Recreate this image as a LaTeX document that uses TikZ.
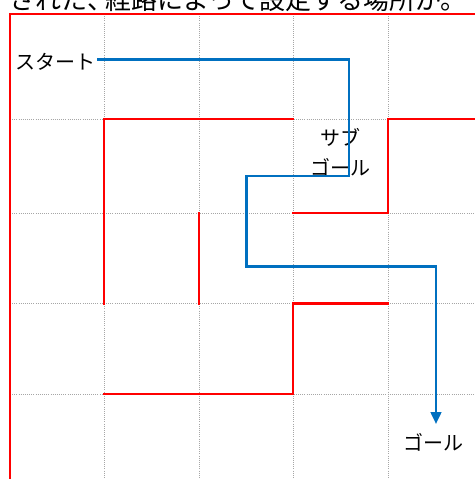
\documentclass[tikz,border=0pt]{standalone}
\usepackage{fontspec}
\newfontfamily\jp{Noto Sans CJK JP}
\usetikzlibrary{arrows.meta}
\definecolor{wallred}{RGB}{255,0,0}
\definecolor{pathblue}{RGB}{0,112,192}
\tikzset{
  gridline/.style={draw=gray!70, densely dotted, line width=0.6pt},
  wall/.style={draw=wallred, line width=2.2pt, line cap=rect},
  route/.style={draw=pathblue, line width=1.9pt},
  lbl/.style={font=\jp\fontsize{15pt}{22.5pt}\selectfont, inner sep=0pt, text=black},
}
\begin{document}
\begin{tikzpicture}[x=0.75pt,y=-0.75pt]
\useasboundingbox (0,0) rectangle (475,479);
\node[anchor=base west, inner sep=0pt, font=\jp\fontsize{19.5pt}{24pt}\selectfont] (cap) at (9,9) {された、\kern-0.3em 経路によって設定する場所が。};
% grid
\foreach \x in {104,199,293,388} \draw[gridline] (\x,14) -- (\x,479);
\foreach \y in {119,213,303.5,394} \draw[gridline] (10,\y) -- (475,\y);
% walls
\draw[wall] (475,14) -- (10,14) -- (10,482);
\draw[wall] (104,303.5) -- (104,119) -- (293,119);
\draw[wall] (478,119) -- (388,119) -- (388,213) -- (293,213);
\draw[wall] (199,213) -- (199,303.5);
\draw[wall] (388,303.5) -- (293,303.5) -- (293,394) -- (104,394);
% labels
\node[lbl, anchor=east] (start) at (96,62) {スタート};
\node[lbl, align=center] (sub) at (340,152) {サブ\\ゴール};
\node[lbl] (goal) at (433,442) {ゴール};
% route
\coordinate (p0) at (97,59.5);
\coordinate (p6) at (436,424);
\draw[route, -{Triangle[length=9pt,width=8pt]}] (p0) -- (349,59.5) -- (349,176) -- (246.5,176) -- (246.5,266.5) -- (436,266.5) -- (p6);
\end{tikzpicture}
\end{document}
